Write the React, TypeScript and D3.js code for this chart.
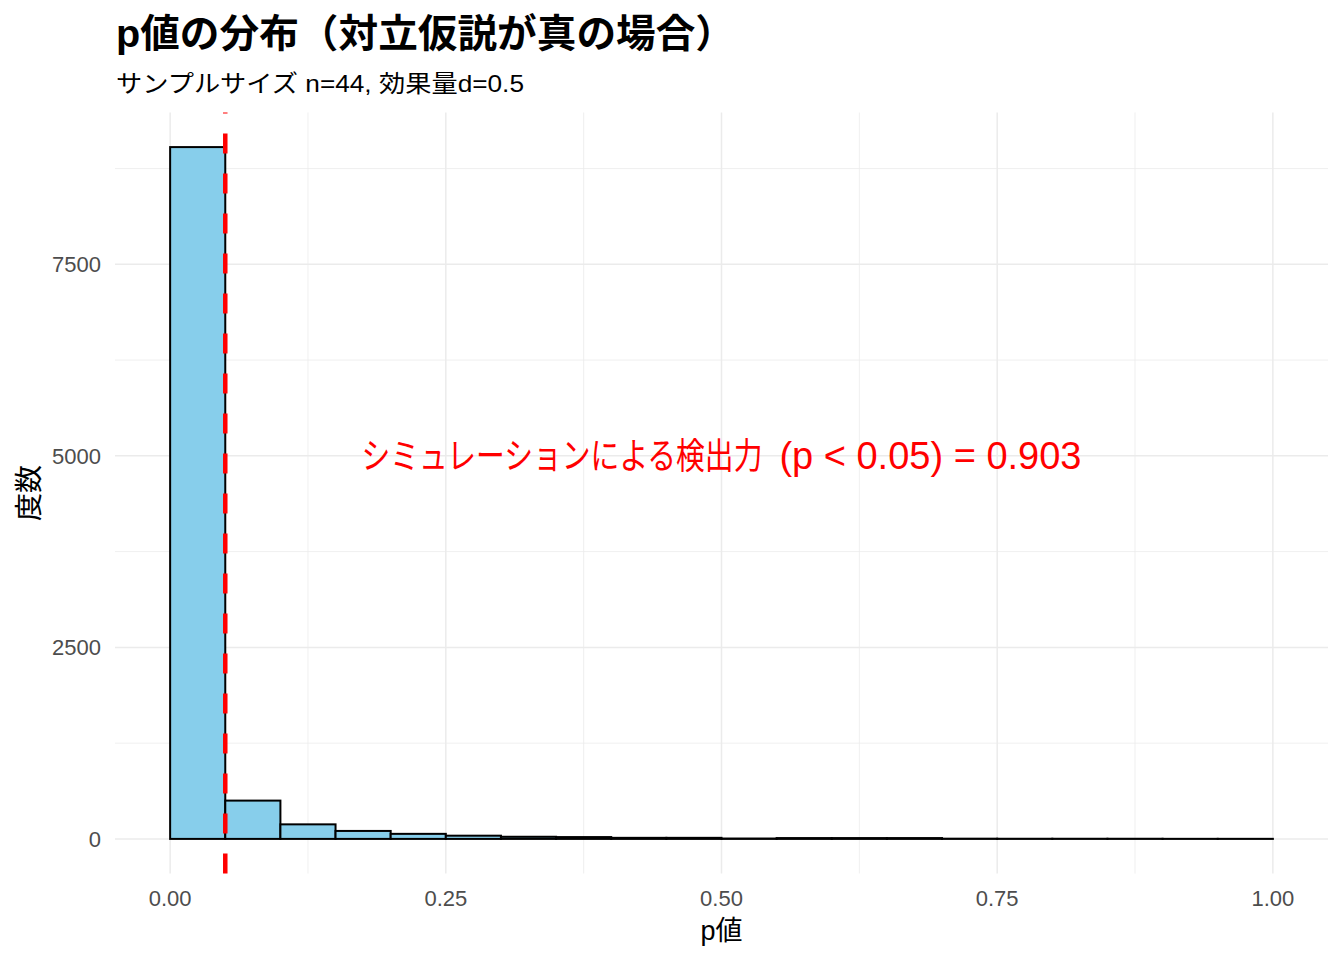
import React from "react";
import * as d3 from "d3";

const binLower = [0, 0.05, 0.1, 0.15, 0.2, 0.25, 0.3, 0.35, 0.4, 0.45, 0.5, 0.55, 0.6, 0.65, 0.7, 0.75, 0.8, 0.85, 0.9, 0.95];
const binUpper = [0.05, 0.1, 0.15, 0.2, 0.25, 0.3, 0.35, 0.4, 0.45, 0.5, 0.55, 0.6, 0.65, 0.7, 0.75, 0.8, 0.85, 0.9, 0.95, 1.0];
const counts = [9030, 500, 190, 104, 66, 42, 28, 24, 14, 14, 5, 11, 11, 11, 3, 2, 2, 2, 1, 1];
const xTicks = [0, 0.25, 0.5, 0.75, 1.0];
const xTickLabels = ["0.00", "0.25", "0.50", "0.75", "1.00"];
const xMinor = [0.125, 0.375, 0.625, 0.875];
const yTicks = [0, 2500, 5000, 7500];
const yTickLabels = ["0", "2500", "5000", "7500"];
const yMinor = [1250, 3750, 6250, 8750];
const alpha = 0.05;
const powerText = "0.903";
const titleText = "p値の分布（対立仮説が真の場合）";
const subtitleText = "サンプルサイズ n=44, 効果量d=0.5";
const xLabel = "p値";
const yLabel = "度数";
const annoCJK = "シミュレーションによる検出力";
const annoLatin = `(p < 0.05) = ${powerText}`;

const W = 1344;
const H = 960;
const LAT = "'Liberation Sans', Arial, 'Noto Sans CJK JP', sans-serif";
const CJK = "'Noto Sans CJK JP', 'Liberation Sans', sans-serif";

export default function App() {
  const x = d3.scaleLinear().domain([-0.05, 1.05]).range([115, 1328]);
  const yMax = d3.max(counts) as number;
  const y = d3.scaleLinear().domain([-yMax * 0.05, yMax * 1.05]).range([873.5, 112.5]);
  const grid = "#ebebeb";
  const [x0, x1] = x.range();
  const [yb, yt] = y.range();

  return (
    <div style={{ position: "absolute", left: 0, top: 0 }}>
      <svg width={W} height={H} style={{ display: "block", background: "#fff" }}>
        {/* minor grid */}
        {yMinor.map((v) => (
          <line key={"ym" + v} x1={x0} x2={x1} y1={y(v)} y2={y(v)} stroke={grid} strokeWidth={0.8} />
        ))}
        {xMinor.map((v) => (
          <line key={"xm" + v} x1={x(v)} x2={x(v)} y1={yb} y2={yt} stroke={grid} strokeWidth={0.8} />
        ))}
        {/* major grid */}
        {yTicks.map((v) => (
          <line key={"yM" + v} x1={x0} x2={x1} y1={y(v)} y2={y(v)} stroke={grid} strokeWidth={1.5} />
        ))}
        {xTicks.map((v) => (
          <line key={"xM" + v} x1={x(v)} x2={x(v)} y1={yb} y2={yt} stroke={grid} strokeWidth={1.5} />
        ))}
        {/* bars */}
        {counts.map((c, i) => (
          <rect
            key={"b" + i}
            x={x(binLower[i])}
            y={y(c)}
            width={x(binUpper[i]) - x(binLower[i])}
            height={y(0) - y(c)}
            fill="#87CEEB"
            stroke="#000"
            strokeWidth={2}
          />
        ))}
        {/* alpha line */}
        <line
          x1={x(alpha)}
          x2={x(alpha)}
          y1={yb}
          y2={yt}
          stroke="#ff0000"
          strokeWidth={4.5}
          strokeDasharray="20 20"
        />
        {/* annotation */}
        <text
          transform={`translate(${x(0.5) - 360}, ${y(5000) + 13}) scale(0.8, 1)`}
          fill="#ff0000"
          fontFamily={CJK}
          fontSize={36}
        >
          {annoCJK}
        </text>
        <text x={x(0.5) + 360} y={y(5000) + 13} fill="#ff0000" fontFamily={LAT} fontSize={38} textAnchor="end">
          {annoLatin}
        </text>
        {/* x tick labels */}
        {xTicks.map((v, i) => (
          <text key={"xt" + v} x={x(v)} y={906} textAnchor="middle" fontFamily={LAT} fontSize={22} fill="#4d4d4d">
            {xTickLabels[i]}
          </text>
        ))}
        {/* y tick labels */}
        {yTicks.map((v, i) => (
          <text key={"yt" + v} x={101} y={y(v) + 8} textAnchor="end" fontFamily={LAT} fontSize={22} fill="#4d4d4d">
            {yTickLabels[i]}
          </text>
        ))}
        {/* axis titles */}
        <text x={x(0.5)} y={940} textAnchor="middle" fontFamily={LAT} fontSize={27} fill="#000">
          {xLabel}
        </text>
        <text
          transform={`translate(39, ${(yb + yt) / 2}) rotate(-90)`}
          textAnchor="middle"
          fontFamily={CJK}
          fontSize={28}
          fill="#000"
        >
          {yLabel}
        </text>
        {/* title & subtitle */}
        <text
          x={116}
          y={47}
          fontFamily={LAT}
          fontSize={39}
          fontWeight="bold"
          fill="#000"
          textLength={619}
          lengthAdjust="spacingAndGlyphs"
        >
          {titleText}
        </text>
        <text
          x={116}
          y={92}
          fontFamily={LAT}
          fontSize={24}
          fill="#000"
          textLength={408}
          lengthAdjust="spacingAndGlyphs"
        >
          {subtitleText}
        </text>
      </svg>
    </div>
  );
}
